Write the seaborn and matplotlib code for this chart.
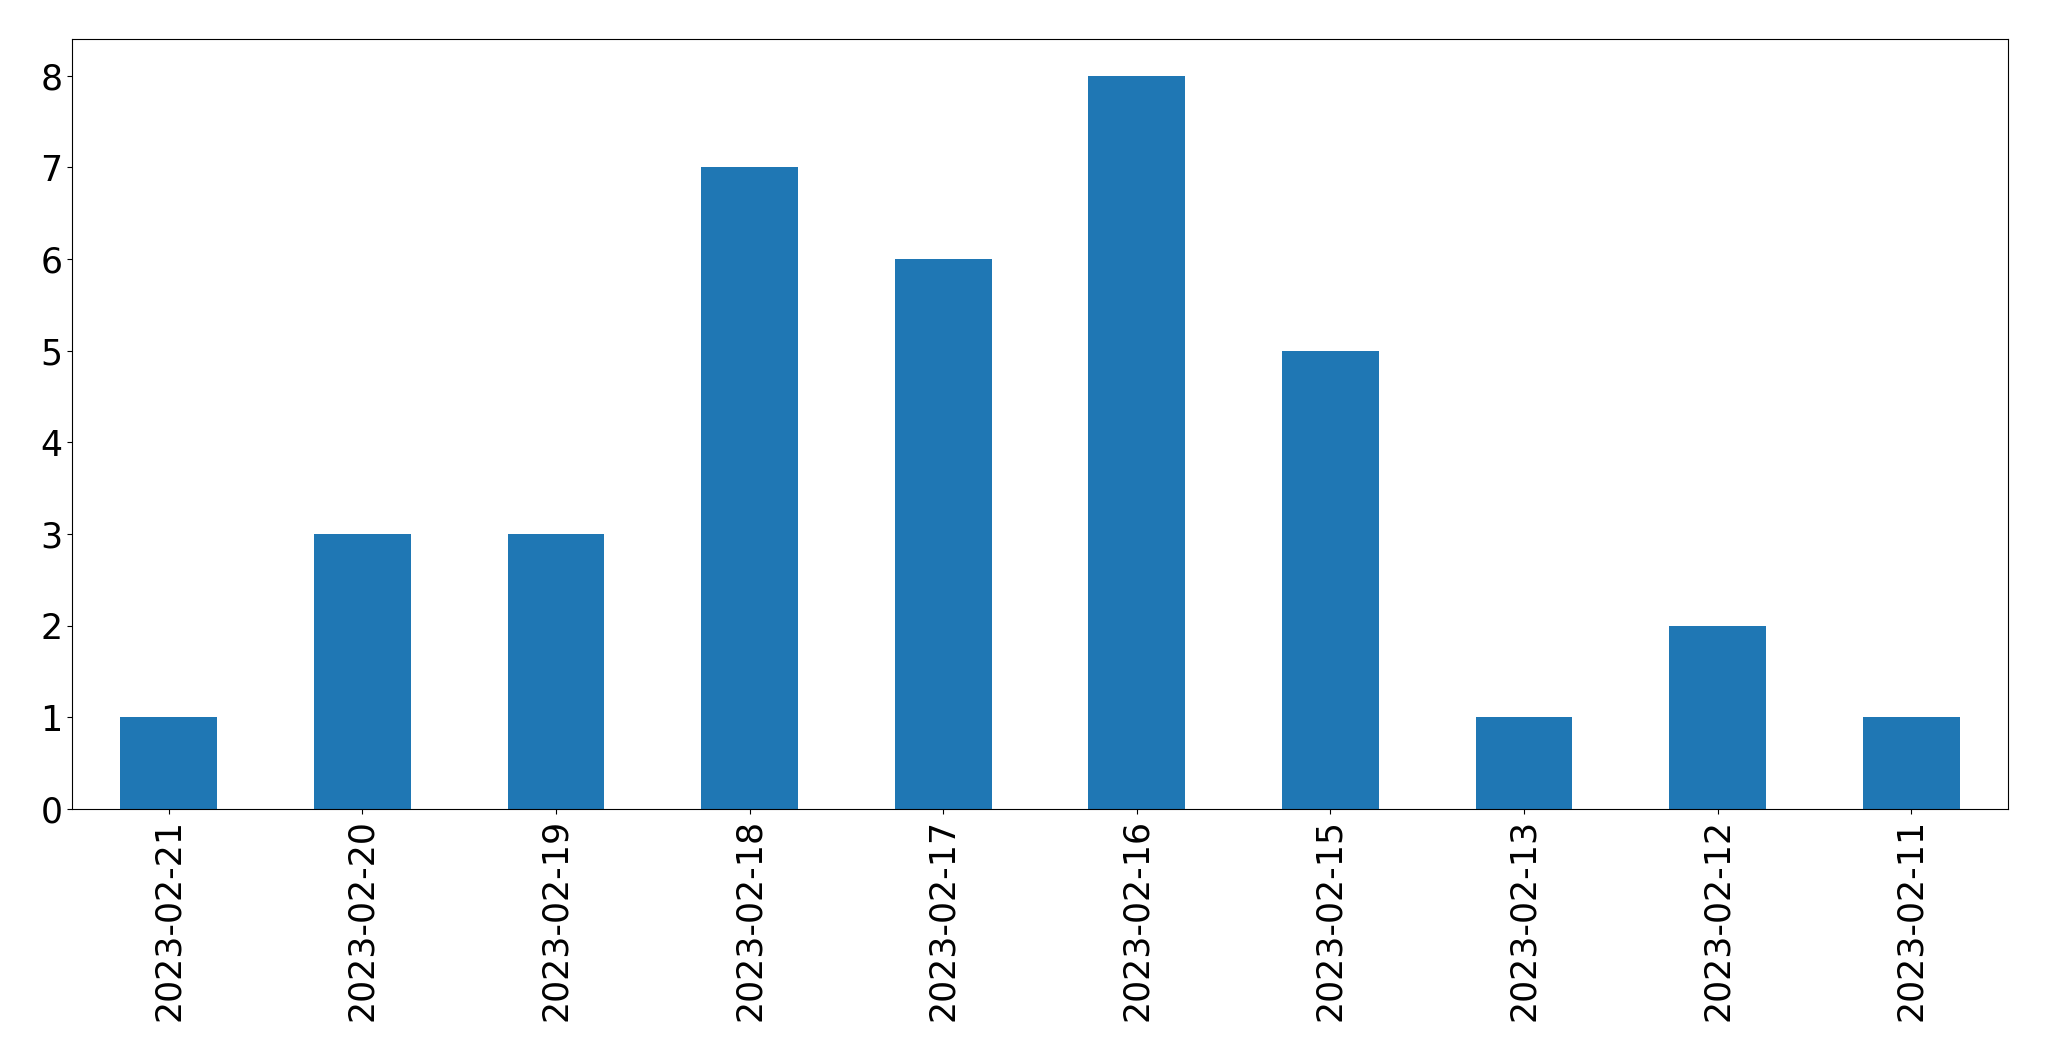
import pandas as pd
import matplotlib
matplotlib.use('Agg')
import matplotlib.pyplot as plt
import seaborn as sns

dates = ['2023-02-21', '2023-02-20', '2023-02-19', '2023-02-18', '2023-02-17',
         '2023-02-16', '2023-02-15', '2023-02-13', '2023-02-12', '2023-02-11']
counts = [1, 3, 3, 7, 6, 8, 5, 1, 2, 1]

df = pd.DataFrame({'date': dates, 'count': counts})

sns.set_style('ticks')
plt.rcParams['font.family'] = ['DejaVu Sans']

fig = plt.figure(figsize=(20.49, 10.61), dpi=100)
ax = fig.add_axes([72 / 2049, 1 - 809 / 1061, (2008 - 72) / 2049, (809 - 39) / 1061])

sns.barplot(data=df, x='date', y='count', order=dates, color='#1f77b4',
            saturation=1, width=0.5, linewidth=0, edgecolor='none', ax=ax)

ax.set_xlim(-0.5, len(dates) - 0.5)
ax.set_ylim(0, 8.4)
ax.set_xlabel('')
ax.set_ylabel('')
ax.tick_params(axis='both', labelsize=25, length=3.5, width=0.8,
               color='black', labelcolor='black')
plt.xticks(rotation=90)
for s in ax.spines.values():
    s.set_visible(True)
    s.set_color('black')
    s.set_linewidth(0.8)

fig.savefig('out.png', dpi=100)
